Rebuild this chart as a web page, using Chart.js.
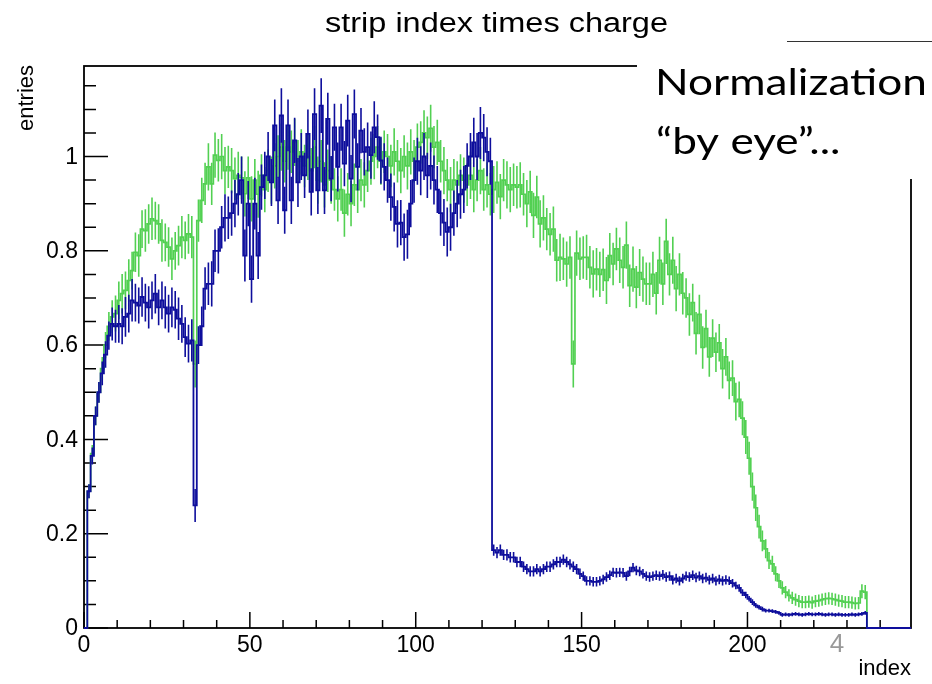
<!DOCTYPE html>
<html><head><meta charset="utf-8">
<script src="https://cdn.jsdelivr.net/npm/chart.js@4/dist/chart.umd.min.js"></script>
<style>html,body{margin:0;padding:0;background:#fff;}#wrap{width:932px;height:684px;}</style>
</head><body><div id="wrap"><canvas id="c" width="932" height="684"></canvas></div>
<script>
// ---------- data ----------
const chartTitle = "strip index times charge";
const xAxisTitle = "index";
const yAxisTitle = "entries";
const xMajorTicks = [0, 50, 100, 150, 200];
const xTickLabels = ["0", "50", "100", "150", "200"];
const yMajorTicks = [0, 0.2, 0.4, 0.6, 0.8, 1];
const yTickLabels = ["0", "0.2", "0.4", "0.6", "0.8", "1"];
const noteLines = ["Normalization", "\u201Cby eye\u201D..."];
const pageNumber = "4";
const binWidth = 1;

const blueValues = [
0,0.29,0.365,0.45,0.50,0.54,0.58,0.62,0.645,0.64,
0.645,0.64,0.66,0.667,0.695,0.69,0.684,0.702,0.69,0.68,
0.695,0.709,0.68,0.695,0.68,0.667,0.68,0.675,0.656,0.645,
0.617,0.603,0.61,0.26,0.60,0.64,0.72,0.73,0.73,0.80,
0.80,0.85,0.87,0.87,0.88,0.90,0.92,0.95,0.79,0.90,
0.74,0.90,0.79,0.935,0.96,1.00,0.945,1.066,0.907,1.087,
0.886,1.066,0.907,1.034,0.945,1.00,0.96,1.048,0.925,1.09,
0.928,1.108,0.928,1.08,0.953,1.062,0.978,1.062,0.985,1.076,
0.953,1.09,0.978,1.055,1.01,1.02,1.003,1.062,1.041,0.992,
0.978,0.95,0.914,0.893,0.857,0.86,0.829,0.835,0.90,0.95,
0.99,0.97,1.00,0.96,0.98,0.95,0.93,0.88,0.86,0.84,
0.85,0.88,0.90,0.92,0.93,0.98,1.00,1.03,1.00,1.05,
1.04,1.01,0.99,0.165,0.16,0.165,0.155,0.155,0.15,0.15,
0.14,0.14,0.13,0.125,0.12,0.12,0.125,0.12,0.125,0.13,
0.13,0.135,0.14,0.14,0.145,0.14,0.135,0.13,0.125,0.115,
0.11,0.10,0.10,0.098,0.098,0.10,0.103,0.108,0.112,0.118,
0.117,0.118,0.117,0.11,0.12,0.128,0.122,0.12,0.115,0.11,
0.108,0.11,0.112,0.11,0.113,0.108,0.11,0.102,0.105,0.10,
0.105,0.11,0.108,0.112,0.107,0.11,0.105,0.107,0.102,0.105,
0.10,0.103,0.10,0.102,0.10,0.095,0.09,0.085,0.075,0.07,
0.062,0.055,0.048,0.044,0.04,0.037,0.037,0.036,0.034,0.032,
0.028,0.029,0.028,0.029,0.03,0.029,0.028,0.029,0.03,0.029,
0.029,0.03,0.029,0.028,0.029,0.029,0.028,0.029,0.028,0.028,
0.028,0.029,0.028,0.029,0.03,0.032,0,0,0,0,
0,0,0,0,0,0,0,0,0,0];

const blueErrors = [
0,0.015,0.018,0.02,0.022,0.025,0.028,0.03,0.035,0.035,
0.04,0.038,0.042,0.04,0.045,0.04,0.038,0.042,0.04,0.045,
0.04,0.042,0.038,0.04,0.045,0.04,0.042,0.04,0.045,0.04,
0.042,0.04,0.045,0.035,0.04,0.042,0.045,0.045,0.048,0.045,
0.048,0.045,0.05,0.045,0.048,0.05,0.045,0.05,0.055,0.048,
0.05,0.055,0.05,0.048,0.05,0.052,0.05,0.055,0.05,0.058,
0.05,0.055,0.05,0.048,0.052,0.05,0.048,0.052,0.05,0.055,
0.05,0.058,0.05,0.055,0.048,0.05,0.052,0.05,0.048,0.055,
0.05,0.052,0.05,0.048,0.05,0.052,0.05,0.055,0.048,0.05,
0.05,0.048,0.05,0.052,0.05,0.048,0.05,0.052,0.05,0.048,
0.05,0.052,0.05,0.048,0.05,0.052,0.05,0.048,0.05,0.052,
0.05,0.048,0.05,0.052,0.05,0.048,0.05,0.052,0.05,0.055,
0.05,0.052,0.05,0.012,0.012,0.012,0.011,0.012,0.011,0.011,
0.011,0.011,0.011,0.011,0.011,0.011,0.011,0.011,0.011,0.011,
0.011,0.011,0.011,0.011,0.011,0.011,0.011,0.011,0.011,0.011,
0.01,0.01,0.01,0.01,0.01,0.01,0.01,0.01,0.01,0.01,
0.01,0.01,0.01,0.01,0.01,0.01,0.01,0.01,0.01,0.01,
0.01,0.01,0.01,0.01,0.01,0.01,0.01,0.01,0.01,0.01,
0.01,0.01,0.01,0.01,0.01,0.01,0.01,0.01,0.01,0.01,
0.01,0.01,0.01,0.01,0.009,0.009,0.008,0.008,0.007,0.007,
0.006,0.006,0.005,0.005,0.005,0.004,0.004,0.004,0.004,0.004,
0.004,0.004,0.004,0.004,0.004,0.004,0.004,0.004,0.004,0.004,
0.004,0.004,0.004,0.004,0.004,0.004,0.004,0.004,0.004,0.004,
0.004,0.004,0.004,0.004,0.004,0.004,0,0,0,0,
0,0,0,0,0,0,0,0,0,0];

const greenValues = [
0,0.29,0.37,0.45,0.50,0.55,0.60,0.64,0.66,0.667,
0.695,0.709,0.716,0.737,0.758,0.797,0.79,0.846,0.843,0.857,
0.868,0.864,0.857,0.822,0.818,0.808,0.783,0.80,0.811,0.829,
0.822,0.836,0.829,0.56,0.864,0.907,0.942,0.978,0.942,1.003,
0.992,1.00,0.97,0.978,0.97,0.953,0.96,0.955,0.921,0.955,
0.91,0.95,0.92,0.96,0.93,0.97,0.95,0.98,1.00,1.02,
0.99,1.02,1.01,1.03,0.99,1.01,0.98,1.00,0.97,1.02,
0.95,0.99,0.94,0.97,0.95,0.93,0.91,0.93,0.88,0.92,
0.90,0.94,0.93,0.95,0.94,0.97,0.99,1.00,1.02,0.99,
1.01,1.00,0.98,1.01,0.99,0.97,1.00,0.98,1.01,0.99,
1.02,1.03,1.05,1.04,1.06,1.02,1.03,0.99,0.97,0.95,
0.93,0.95,0.94,0.96,0.95,0.94,0.96,0.93,0.95,0.97,
0.93,0.94,0.92,0.93,0.945,0.915,0.95,0.94,0.93,0.94,
0.935,0.94,0.92,0.90,0.925,0.875,0.914,0.857,0.87,0.846,
0.835,0.846,0.78,0.786,0.783,0.772,0.786,0.56,0.795,0.783,
0.786,0.786,0.765,0.751,0.761,0.75,0.76,0.737,0.79,0.772,
0.804,0.78,0.765,0.812,0.726,0.761,0.723,0.754,0.74,0.73,
0.73,0.75,0.71,0.78,0.73,0.82,0.75,0.78,0.72,0.75,
0.71,0.70,0.665,0.69,0.625,0.665,0.595,0.635,0.575,0.615,
0.585,0.605,0.55,0.575,0.525,0.53,0.48,0.485,0.445,0.405,
0.36,0.30,0.255,0.215,0.185,0.168,0.143,0.136,0.115,0.10,
0.085,0.076,0.069,0.064,0.06,0.057,0.055,0.055,0.056,0.054,
0.057,0.058,0.06,0.062,0.063,0.062,0.06,0.058,0.057,0.055,
0.055,0.054,0.052,0.053,0.078,0.076,0,0,0,0,
0,0,0,0,0,0,0,0,0,0];

const greenErrors = [
0,0.015,0.018,0.02,0.022,0.025,0.028,0.03,0.035,0.038,
0.04,0.042,0.04,0.045,0.04,0.042,0.045,0.04,0.045,0.042,
0.045,0.04,0.042,0.045,0.04,0.042,0.045,0.04,0.042,0.045,
0.04,0.042,0.045,0.05,0.045,0.048,0.045,0.05,0.045,0.048,
0.045,0.048,0.05,0.045,0.048,0.045,0.05,0.045,0.048,0.045,
0.048,0.045,0.05,0.045,0.048,0.045,0.05,0.048,0.045,0.05,
0.045,0.048,0.045,0.05,0.045,0.048,0.045,0.05,0.048,0.045,
0.05,0.045,0.048,0.045,0.05,0.045,0.048,0.045,0.05,0.045,
0.048,0.045,0.05,0.045,0.048,0.045,0.05,0.048,0.045,0.05,
0.045,0.048,0.045,0.05,0.045,0.048,0.045,0.05,0.048,0.045,
0.05,0.045,0.048,0.045,0.05,0.045,0.048,0.045,0.05,0.045,
0.048,0.045,0.05,0.045,0.048,0.045,0.05,0.048,0.045,0.05,
0.045,0.048,0.045,0.05,0.045,0.048,0.045,0.05,0.048,0.045,
0.045,0.048,0.045,0.05,0.045,0.048,0.045,0.05,0.048,0.045,
0.045,0.048,0.045,0.05,0.045,0.048,0.045,0.05,0.048,0.045,
0.045,0.048,0.045,0.05,0.045,0.048,0.045,0.05,0.048,0.045,
0.045,0.048,0.045,0.05,0.045,0.048,0.045,0.05,0.048,0.045,
0.045,0.048,0.045,0.05,0.045,0.048,0.045,0.05,0.048,0.045,
0.045,0.042,0.045,0.04,0.045,0.042,0.045,0.04,0.042,0.04,
0.042,0.04,0.042,0.04,0.04,0.038,0.04,0.038,0.036,0.036,
0.035,0.03,0.028,0.025,0.022,0.02,0.018,0.017,0.016,0.015,
0.014,0.013,0.013,0.013,0.013,0.013,0.013,0.013,0.013,0.013,
0.013,0.013,0.013,0.013,0.013,0.013,0.013,0.013,0.013,0.013,
0.013,0.013,0.013,0.013,0.015,0.015,0,0,0,0,
0,0,0,0,0,0,0,0,0,0];

// ---------- styling ----------
const BLUE = "#0e0e9c";
const GREEN = "#52d052";
const FONT = "'Liberation Sans', Arial, Helvetica, sans-serif";

function toPoints(vals) {
  const pts = vals.map((v, i) => ({ x: i * binWidth, y: v }));
  pts.push({ x: vals.length * binWidth, y: 0 });
  return pts;
}
const seriesVals = [blueValues, greenValues];
const seriesErrs = [blueErrors, greenErrors];
const seriesCols = [BLUE, GREEN];

const errorBarPlugin = {
  id: "errbars",
  afterDatasetDraw(chart, args) {
    const i = args.index;
    const vals = seriesVals[i], errs = seriesErrs[i];
    const xs = chart.scales.x, ys = chart.scales.y, ca = chart.chartArea;
    const ctx = chart.ctx;
    ctx.save();
    ctx.beginPath();
    ctx.rect(ca.left, ca.top, ca.right - ca.left, ca.bottom - ca.top);
    ctx.clip();
    ctx.strokeStyle = seriesCols[i];
    ctx.lineWidth = 1.6;
    ctx.beginPath();
    vals.forEach((v, k) => {
      if (v <= 0 || !errs[k]) return;
      const x = xs.getPixelForValue((k + 0.5) * binWidth);
      ctx.moveTo(x, ys.getPixelForValue(v - errs[k]));
      ctx.lineTo(x, ys.getPixelForValue(v + errs[k]));
    });
    ctx.stroke();
    ctx.restore();
  }
};

function scaledText(ctx, text, x, y, font, targetW, align) {
  ctx.font = font;
  const w = ctx.measureText(text).width;
  const s = targetW / w;
  ctx.save();
  ctx.translate(x, y);
  ctx.scale(s, 1);
  ctx.textAlign = align;
  ctx.textBaseline = "alphabetic";
  ctx.fillText(text, 0, 0);
  ctx.restore();
  return s;
}

const framePlugin = {
  id: "frame",
  beforeDatasetsDraw(chart) {
    const ctx = chart.ctx, ca = chart.chartArea, xs = chart.scales.x, ys = chart.scales.y;
    ctx.save();
    ctx.strokeStyle = "#000";
    ctx.lineWidth = 1.8;
    ctx.strokeRect(ca.left, ca.top, ca.right - ca.left, ca.bottom - ca.top);
    ctx.lineWidth = 1.5;
    ctx.beginPath();
    for (let v = 0; v <= xs.max + 1e-9; v += 10) {
      const x = xs.getPixelForValue(v);
      const major = xMajorTicks.includes(v);
      ctx.moveTo(x, ca.bottom);
      ctx.lineTo(x, ca.bottom - (major ? 16 : 8));
    }
    for (let k = 0; k * 0.05 <= ys.max + 1e-9; k++) {
      const y = ys.getPixelForValue(k * 0.05);
      const major = k % 4 === 0;
      ctx.moveTo(ca.left, y);
      ctx.lineTo(ca.left + (major ? 24 : 12), y);
    }
    ctx.stroke();
    ctx.restore();
  },
  afterDraw(chart) {
    const ctx = chart.ctx, ca = chart.chartArea, xs = chart.scales.x, ys = chart.scales.y;
    ctx.save();
    ctx.fillStyle = "#000";
    ctx.font = "23px " + FONT;
    ctx.textAlign = "center";
    ctx.textBaseline = "alphabetic";
    xMajorTicks.forEach((v, i) => {
      ctx.fillText(xTickLabels[i], xs.getPixelForValue(v), 652);
    });
    ctx.textAlign = "right";
    ctx.textBaseline = "middle";
    yMajorTicks.forEach((v, i) => {
      ctx.fillText(yTickLabels[i], 78, ys.getPixelForValue(v) + 1);
    });
    ctx.font = "22px " + FONT;
    ctx.textAlign = "right";
    ctx.textBaseline = "alphabetic";
    ctx.fillText(xAxisTitle, ca.right, 675);
    ctx.save();
    ctx.translate(33, 65);
    ctx.rotate(-Math.PI / 2);
    ctx.textAlign = "right";
    ctx.fillText(yAxisTitle, 0, 0);
    ctx.restore();
    scaledText(ctx, chartTitle, 496.5, 32, "27px " + FONT, 343, "center");

    // overlay box from the slide
    ctx.fillStyle = "#fff";
    ctx.fillRect(637, 43, 295, 136);
    ctx.strokeStyle = "#333";
    ctx.lineWidth = 1.2;
    ctx.beginPath();
    ctx.moveTo(787, 41.5);
    ctx.lineTo(932, 41.5);
    ctx.stroke();
    ctx.fillStyle = "#000";
    const noteFont = "37px Lato, 'Open Sans', sans-serif";
    const s = scaledText(ctx, noteLines[0], 655, 95, noteFont, 272, "left");
    ctx.font = noteFont;
    ctx.save();
    ctx.translate(656, 154);
    ctx.scale(s, 1);
    ctx.textAlign = "left";
    ctx.fillText(noteLines[1], 0, 0);
    ctx.restore();
    ctx.fillStyle = "#999";
    ctx.font = "26px " + FONT;
    ctx.textAlign = "center";
    ctx.fillText(pageNumber, 837, 652);
    ctx.restore();
  }
};

new Chart(document.getElementById("c"), {
  type: "line",
  data: {
    datasets: [
      { label: "blue", data: toPoints(blueValues), stepped: "before", borderColor: BLUE,
        borderWidth: 1.8, pointRadius: 0, fill: false, clip: { left: 2, top: 0, right: 0, bottom: 2 } },
      { label: "green", data: toPoints(greenValues), stepped: "before", borderColor: GREEN,
        borderWidth: 1.7, pointRadius: 0, fill: false, clip: { left: 2, top: 0, right: 0, bottom: 2 } }
    ]
  },
  options: {
    responsive: false,
    animation: false,
    devicePixelRatio: 1,
    events: [],
    layout: { padding: { left: 84, right: 21, top: 66, bottom: 56 } },
    plugins: { legend: { display: false }, tooltip: { enabled: false }, title: { display: false } },
    scales: {
      x: { type: "linear", min: 0, max: 249.3, display: false },
      y: { type: "linear", min: 0, max: 1.192, display: false }
    }
  },
  plugins: [errorBarPlugin, framePlugin]
});
</script>
</body></html>
